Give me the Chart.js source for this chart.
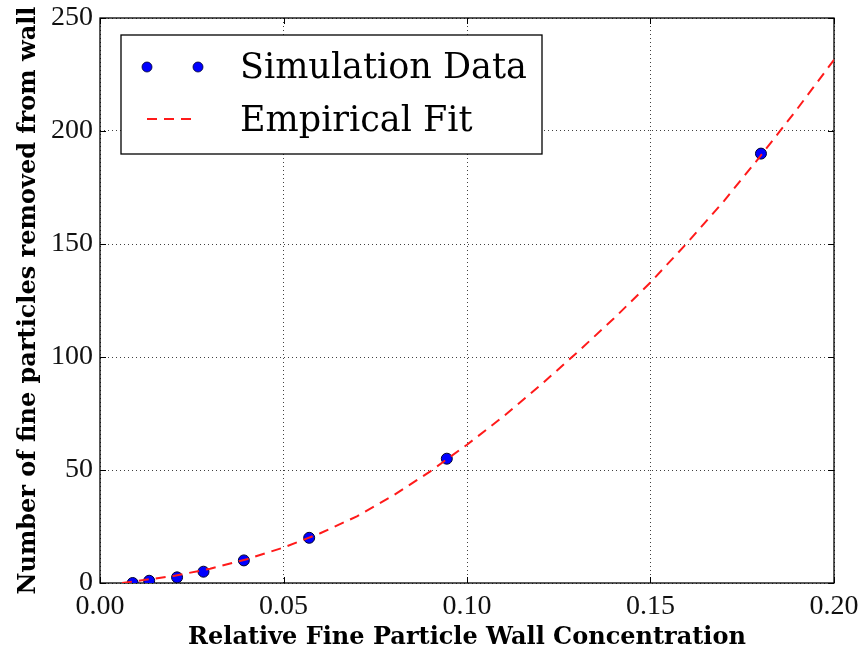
<!DOCTYPE html>
<html>
<head>
<meta charset="utf-8">
<script src="https://cdn.jsdelivr.net/npm/chart.js@4.4.0/dist/chart.umd.min.js"></script>
<style>
    body { margin: 0; background: #fff; }
</style>
</head>
<body>
<canvas id="removal-chart" width="864" height="656"></canvas>
<script>
// simulation runs: wall concentration -> particles removed
var sim_conc = [0.0089, 0.0134, 0.021, 0.0282, 0.0392, 0.0570, 0.0945, 0.1801];
var sim_removed = [0, 1, 2.5, 5, 10, 20, 55, 190];

// empirical fit, sampled along the curve
var fit_conc = [0.006, 0.01, 0.02, 0.03, 0.04, 0.05, 0.06, 0.07, 0.08, 0.09, 0.10,
                0.11, 0.12, 0.13, 0.14, 0.15, 0.16, 0.17, 0.18, 0.19, 0.20];
var fit_removed = [0, 0.9, 3.1, 6.3, 10.5, 15.7, 22, 29.5, 38.8, 49.4, 61.2,
                   73.8, 87.5, 102, 117, 133, 150.5, 169, 189, 209.8, 231.5];

var x_ticks = [0, 0.05, 0.10, 0.15, 0.20];
var y_ticks = [0, 50, 100, 150, 200, 250];

var tick_font = { family: "'Liberation Serif', serif", size: 28, lineHeight: 1 };
var title_font = { family: "'DejaVu Serif', serif", size: 24, weight: 'bold', lineHeight: 1.2 };
var fit_dash = [10, 7];

function to_points(xs, ys) {
    var pts = [];
    for (var i = 0; i < xs.length; i++) {
        pts.push({ x: xs[i], y: ys[i] });
    }
    return pts;
}

// black frame + inward tick marks on all four sides
var frame_plugin = {
    id: 'frame',
    beforeDatasetsDraw: function(chart) {
        var ctx = chart.ctx;
        var a = chart.chartArea;
        var xs = chart.scales.x, ys = chart.scales.y;
        var len = 6;
        ctx.save();
        ctx.strokeStyle = '#000';
        ctx.lineWidth = 1;
        ctx.beginPath();
        xs.ticks.forEach(function(t) {
            var px = Math.round(xs.getPixelForValue(t.value)) + 0.5;
            ctx.moveTo(px, a.bottom); ctx.lineTo(px, a.bottom - len);
            ctx.moveTo(px, a.top); ctx.lineTo(px, a.top + len);
        });
        ys.ticks.forEach(function(t) {
            var py = Math.round(ys.getPixelForValue(t.value)) + 0.5;
            ctx.moveTo(a.left, py); ctx.lineTo(a.left + len, py);
            ctx.moveTo(a.right, py); ctx.lineTo(a.right - len, py);
        });
        ctx.stroke();
        ctx.lineWidth = 1.3;
        ctx.strokeRect(a.left, a.top, a.right - a.left, a.bottom - a.top);
        ctx.restore();
    }
};

// boxed legend in the upper left corner of the plot
var legend_plugin = {
    id: 'boxLegend',
    afterDraw: function(chart) {
        var ctx = chart.ctx;
        var sim = chart.data.datasets[1];
        var fit = chart.data.datasets[0];
        ctx.save();
        ctx.fillStyle = '#fff';
        ctx.fillRect(121, 35, 421, 119);
        ctx.strokeStyle = '#000';
        ctx.lineWidth = 1.3;
        ctx.strokeRect(121, 35, 421, 119);

        [147, 198].forEach(function(x) {
            ctx.beginPath();
            ctx.arc(x, 67, 5, 0, Math.PI * 2);
            ctx.fillStyle = sim.backgroundColor;
            ctx.fill();
            ctx.lineWidth = 0.8;
            ctx.strokeStyle = sim.borderColor;
            ctx.stroke();
        });

        ctx.beginPath();
        ctx.setLineDash(fit_dash);
        ctx.strokeStyle = fit.borderColor;
        ctx.lineWidth = fit.borderWidth;
        ctx.moveTo(147, 119);
        ctx.lineTo(198, 119);
        ctx.stroke();
        ctx.setLineDash([]);

        ctx.fillStyle = '#000';
        ctx.font = "35px 'DejaVu Serif', serif";
        ctx.textBaseline = 'alphabetic';
        ctx.fillText(sim.label, 240, 78);
        ctx.fillText(fit.label, 240, 131);
        ctx.restore();
    }
};

const removal = document.getElementById('removal-chart');
new Chart(removal, {
    type: 'scatter',
    data: {
        datasets: [{
            label: 'Empirical Fit',
            data: to_points(fit_conc, fit_removed),
            showLine: true,
            borderColor: '#ff1a1a',
            borderWidth: 2,
            borderDash: fit_dash,
            pointRadius: 0,
            fill: false,
            clip: 0,
            order: 0
        }, {
            label: 'Simulation Data',
            data: to_points(sim_conc, sim_removed),
            backgroundColor: '#0000ff',
            borderColor: '#000030',
            borderWidth: 1,
            pointRadius: 5.5,
            clip: 0,
            order: 1
        }]
    },
    options: {
        responsive: false,
        animation: false,
        devicePixelRatio: 1,
        layout: {
            padding: { top: 18, right: 30, left: 0, bottom: 0 }
        },
        plugins: {
            legend: { display: false },
            tooltip: { enabled: false }
        },
        scales: {
            x: {
                type: 'linear',
                min: 0,
                max: 0.2,
                afterBuildTicks: function(scale) {
                    scale.ticks = x_ticks.map(function(v) { return { value: v }; });
                },
                afterFit: function(scale) {
                    scale.height = 73;
                    scale.paddingLeft = 0;
                    scale.paddingRight = 0;
                },
                ticks: {
                    font: tick_font,
                    color: '#111',
                    padding: 10,
                    maxRotation: 0,
                    callback: function(v) { return v.toFixed(2); }
                },
                grid: {
                    color: 'rgba(0,0,0,0.75)',
                    lineWidth: 1,
                    drawTicks: false
                },
                border: { display: false, dash: [1, 3] },
                title: {
                    display: true,
                    text: 'Relative Fine Particle Wall Concentration',
                    font: title_font,
                    color: '#000',
                    padding: { top: 0, bottom: 4 }
                }
            },
            y: {
                min: 0,
                max: 250,
                afterBuildTicks: function(scale) {
                    scale.ticks = y_ticks.map(function(v) { return { value: v }; });
                },
                afterFit: function(scale) {
                    scale.width = 100;
                    scale.paddingTop = 0;
                    scale.paddingBottom = 0;
                },
                ticks: {
                    font: tick_font,
                    color: '#111',
                    padding: 7
                },
                grid: {
                    color: 'rgba(0,0,0,0.75)',
                    lineWidth: 1,
                    drawTicks: false
                },
                border: { display: false, dash: [1, 3] },
                title: {
                    display: true,
                    text: 'Number of fine particles removed from wall',
                    font: title_font,
                    color: '#000',
                    padding: { top: 14, bottom: 0 }
                }
            }
        }
    },
    plugins: [frame_plugin, legend_plugin]
});
</script>
</body>
</html>
